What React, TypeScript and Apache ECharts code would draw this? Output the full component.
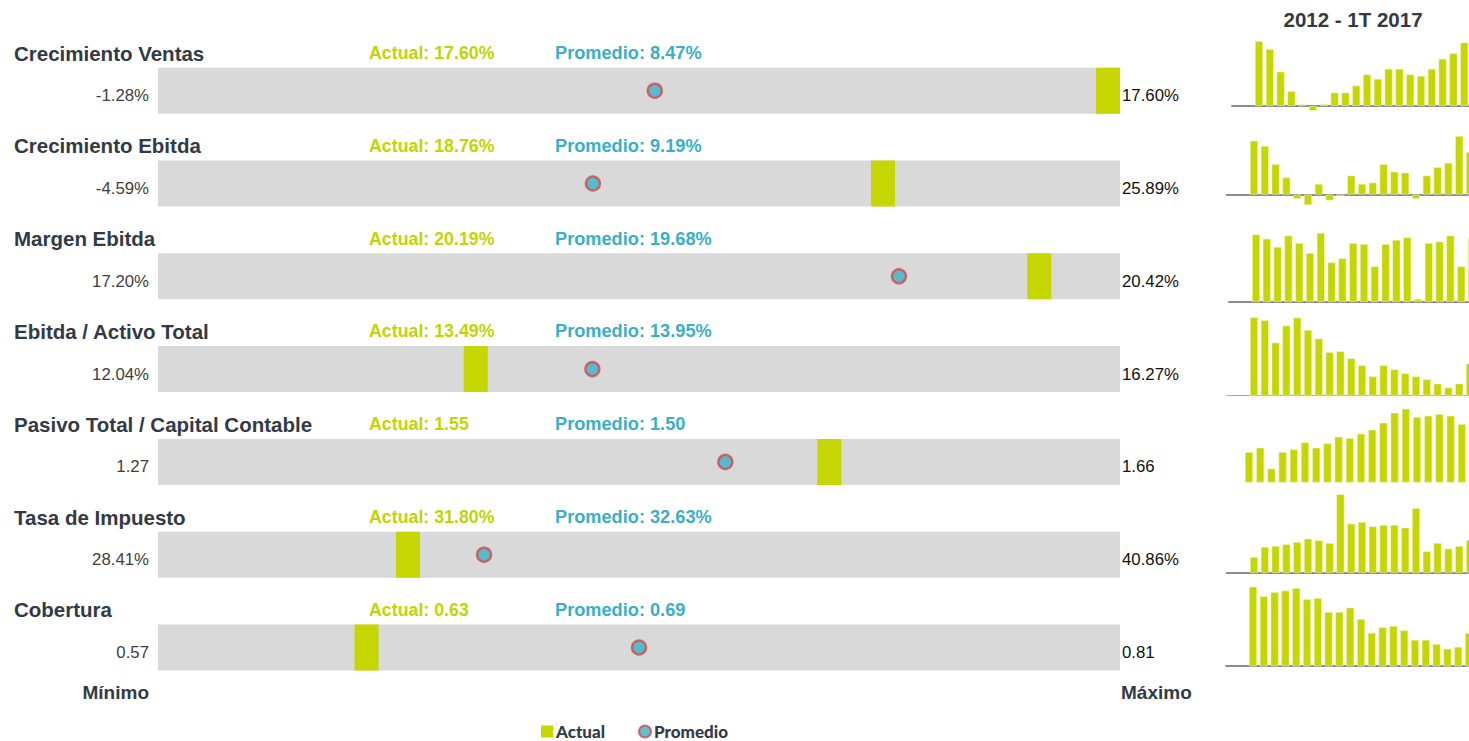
import React, { useEffect, useRef } from "react";
import * as echarts from "echarts";

const metrics = [
  "Crecimiento Ventas",
  "Crecimiento Ebitda",
  "Margen Ebitda",
  "Ebitda / Activo Total",
  "Pasivo Total / Capital Contable",
  "Tasa de Impuesto",
  "Cobertura",
];
const isPercent = [true, true, true, true, false, true, false];
const minValues = [-1.28, -4.59, 17.2, 12.04, 1.27, 28.41, 0.57];
const maxValues = [17.6, 25.89, 20.42, 16.27, 1.66, 40.86, 0.81];
const actualValues = [17.6, 18.76, 20.19, 13.49, 1.547, 31.8, 0.625];
const averageValues = [8.47, 9.19, 19.68, 13.95, 1.5, 32.63, 0.69];

const historyTitle = "2012 - 1T 2017";
const quarters = [
  "3T 2011", "4T 2011",
  "1T 2012", "2T 2012", "3T 2012", "4T 2012",
  "1T 2013", "2T 2013", "3T 2013", "4T 2013",
  "1T 2014", "2T 2014", "3T 2014", "4T 2014",
  "1T 2015", "2T 2015", "3T 2015", "4T 2015",
  "1T 2016", "2T 2016", "3T 2016", "4T 2016",
  "1T 2017",
];
const histVentas = [17.5, 15.3, 9.25, 4.0, 0.45, -1.28, 0.45, 3.6, 3.6, 5.5, 8.5, 7.3, 10.0, 10.0, 8.5, 8.1, 10.0, 12.7, 14.2, 17.1, 17.6];
const histEbitda = [23.8, 21.5, 13.4, 7.6, -1.9, -4.59, 4.7, -2.6, -0.7, 8.4, 4.7, 5.3, 13.4, 10.1, 9.7, -1.9, 8.4, 12.1, 14.0, 25.89, 18.76];
const histMargen = [20.35, 20.14, 19.74, 20.29, 19.93, 19.44, 20.42, 18.99, 19.18, 19.93, 19.88, 18.79, 19.88, 20.08, 20.21, 17.2, 19.93, 20.0, 20.29, 18.79, 20.19];
const histActivo = [16.27, 16.09, 14.75, 15.77, 16.25, 15.51, 14.99, 14.17, 14.23, 13.8, 13.38, 12.72, 13.38, 13.14, 12.9, 12.72, 12.54, 12.28, 12.04, 12.28, 13.49];
const histPasivo = [1.378, 1.406, 1.27, 1.378, 1.395, 1.441, 1.406, 1.435, 1.478, 1.469, 1.497, 1.523, 1.569, 1.634, 1.66, 1.606, 1.614, 1.625, 1.614, 1.56, 1.55];
const histImpuesto = [28.41, 30.4, 30.6, 30.93, 31.39, 32.05, 31.72, 31.19, 40.86, 35.03, 35.37, 34.5, 34.77, 34.77, 34.24, 38.08, 29.54, 31.19, 30.07, 30.6, 31.8];
const histCobertura = [0.81, 0.773, 0.789, 0.795, 0.805, 0.762, 0.766, 0.712, 0.712, 0.729, 0.685, 0.631, 0.653, 0.658, 0.641, 0.604, 0.604, 0.588, 0.57, 0.577, 0.63];
const histories = [histVentas, histEbitda, histMargen, histActivo, histPasivo, histImpuesto, histCobertura];
const sparkMin = [-1.28, -4.59, 17.07, 11.58, 1.181, 25.3, 0.503];
const sparkMax = [17.6, 25.89, 20.42, 16.27, 1.66, 40.86, 0.81];

const GREEN = "#c5d600";
const TEAL = "#38b2c8";
const RED = "#d24a4f";
const DARK = "#323a45";
const FONT = "'Liberation Sans', Arial, sans-serif";

// layout
const ROW_STEP = 92.8;
const BAND_TOP = 67.7;
const BAND_H = 46;
const BAND_LEFT = 158;
const BAND_W = 962;
const sparkLeft = [1232, 1227, 1229, 1227, 1221, 1227, 1226];
const sparkStep = [10.8, 10.8, 10.8, 10.8, 11.2, 10.8, 10.8];
const sparkTop = [40.7, 136, 233, 317.3, 408.7, 494.3, 586.7];
const sparkBottom = [110.7, 205, 301.7, 395.3, 482.3, 572.7, 666];

function fmt(v: number, pct: boolean) {
  return v.toFixed(2) + (pct ? "%" : "");
}

export default function App() {
  const ref = useRef<HTMLDivElement>(null);
  useEffect(() => {
    if (!ref.current) return;
    const chart = echarts.init(ref.current, undefined, { renderer: "svg" });
    const grid: any[] = [];
    const xAxis: any[] = [];
    const yAxis: any[] = [];
    const series: any[] = [];
    const graphic: any[] = [];

    metrics.forEach((m, i) => {
      const top = BAND_TOP + ROW_STEP * i;
      grid.push({
        left: BAND_LEFT, top, width: BAND_W, height: BAND_H,
        show: true, backgroundColor: "#d9d9d9", borderWidth: 0,
      });
      xAxis.push({ type: "value", gridIndex: i, min: minValues[i], max: maxValues[i], show: false });
      yAxis.push({ type: "value", gridIndex: i, min: 0, max: 1, show: false });
      series.push({
        type: "custom",
        name: "Actual",
        xAxisIndex: i,
        yAxisIndex: i,
        itemStyle: { color: GREEN },
        data: [[actualValues[i], 0.5]],
        renderItem: (params: any, api: any) => {
          const p = api.coord([api.value(0), api.value(1)]);
          const cs = params.coordSys;
          return {
            type: "rect",
            shape: { x: p[0] - 24, y: cs.y, width: 24, height: cs.height },
            style: { fill: GREEN },
          };
        },
      });
      series.push({
        type: "scatter",
        name: "Promedio",
        xAxisIndex: i,
        yAxisIndex: i,
        symbol: "circle",
        symbolSize: 14,
        z: 5,
        itemStyle: { color: TEAL, borderColor: RED, borderWidth: 2.4 },
        data: [[averageValues[i], 0.5]],
      });

      const ty = 53 + ROW_STEP * i;
      graphic.push({
        type: "text", x: 14, y: ty,
        style: { text: m, fill: DARK, font: `bold 20.5px ${FONT}`, textVerticalAlign: "middle" },
      });
      graphic.push({
        type: "text", x: 369, y: ty,
        style: { text: "Actual: " + fmt(actualValues[i], isPercent[i]), fill: "#c3d400", font: `bold 17.8px ${FONT}`, textVerticalAlign: "middle" },
      });
      graphic.push({
        type: "text", x: 555, y: ty,
        style: { text: "Promedio: " + fmt(averageValues[i], isPercent[i]), fill: "#3aafc7", font: `bold 18.2px ${FONT}`, textVerticalAlign: "middle" },
      });
      const ly = top + BAND_H / 2 + 5;
      graphic.push({
        type: "text", x: 149, y: ly,
        style: { text: fmt(minValues[i], isPercent[i]), fill: "#404040", font: `16.8px ${FONT}`, textAlign: "right", textVerticalAlign: "middle" },
      });
      graphic.push({
        type: "text", x: 1122, y: ly,
        style: { text: fmt(maxValues[i], isPercent[i]), fill: "#111111", font: `16.8px ${FONT}`, textAlign: "left", textVerticalAlign: "middle" },
      });
    });

    histories.forEach((h, i) => {
      const gi = metrics.length + i;
      grid.push({
        left: sparkLeft[i],
        top: sparkTop[i],
        width: sparkStep[i] * quarters.length,
        height: sparkBottom[i] - sparkTop[i],
      });
      xAxis.push({
        type: "category", gridIndex: gi, data: quarters, boundaryGap: true,
        axisLine: { show: i !== 4, lineStyle: { color: i === 3 ? "#a8a8a8" : "#8c8c8c", width: i === 3 ? 1 : 2 } },
        axisTick: { show: false }, axisLabel: { show: false },
      });
      yAxis.push({ type: "value", gridIndex: gi, min: sparkMin[i], max: sparkMax[i], show: false });
      series.push({
        type: "bar",
        name: "hist" + i,
        xAxisIndex: gi,
        yAxisIndex: gi,
        barWidth: 8,
        itemStyle: { color: GREEN, borderColor: "rgba(240,245,190,0.9)", borderWidth: 0.6 },
        data: [null, null, ...h],
      });
    });

    graphic.push({
      type: "text", x: 149, y: 692,
      style: { text: "Mínimo", fill: DARK, font: `bold 19px ${FONT}`, textAlign: "right", textVerticalAlign: "middle" },
    });
    graphic.push({
      type: "text", x: 1121, y: 692,
      style: { text: "Máximo", fill: DARK, font: `bold 19px ${FONT}`, textAlign: "left", textVerticalAlign: "middle" },
    });
    graphic.push({
      type: "text", x: 1353, y: 19,
      style: { text: historyTitle, fill: DARK, font: `bold 20.5px ${FONT}`, textAlign: "center", textVerticalAlign: "middle" },
    });

    chart.setOption({
      animation: false,
      backgroundColor: "#ffffff",
      grid,
      xAxis,
      yAxis,
      series,
      graphic,
      legend: {
        left: 541,
        top: 723,
        padding: 0,
        itemWidth: 12,
        itemHeight: 12,
        itemGap: 33,
        data: [
          { name: "Actual", icon: "rect" },
          { name: "Promedio", icon: "circle" },
        ],
        textStyle: { fontFamily: "Lato", fontWeight: 900, fontSize: 17, lineHeight: 16, color: DARK, padding: [0, 0, 0, -2] },
      },
    });
    return () => chart.dispose();
  }, []);

  return (
    <div style={{ position: "fixed", left: 0, top: 0, width: 1469, height: 741, overflow: "hidden", background: "#fff" }}>
      <div ref={ref} style={{ width: 1500, height: 741 }} />
    </div>
  );
}
